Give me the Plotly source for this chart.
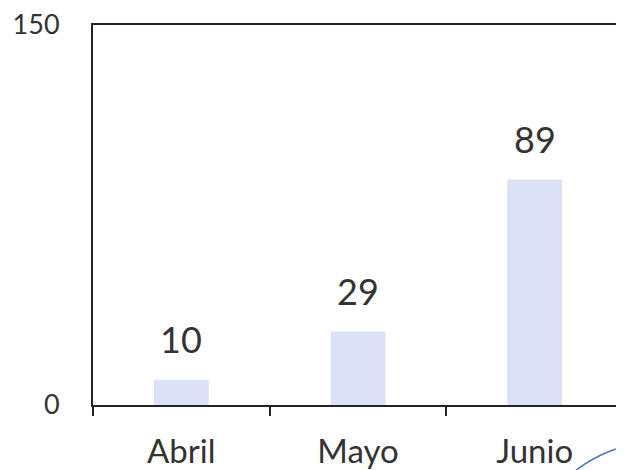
import plotly.graph_objects as go

categories = ["Abril", "Mayo", "Junio"]
values = [10, 29, 89]
y_ticks = [0, 150]

bar_color = "#dde1f5"
text_color = "#333333"
font_family = "Lato, 'Open Sans', sans-serif"

fig = go.Figure()
fig.add_trace(go.Bar(
    x=categories, y=values,
    marker=dict(color=bar_color, line=dict(width=0)),
    width=0.31,
    hoverinfo="skip",
))

for c, v in zip(categories, values):
    fig.add_annotation(
        x=c, y=v, text=str(v), showarrow=False,
        yanchor="bottom", yshift=17,
        font=dict(size=36, color=text_color, family=font_family),
    )

# scanner stamp arc at bottom-right
fig.add_shape(
    type="circle", xref="paper", yref="paper",
    x0=0.8094, x1=1.330, y0=-0.824, y1=-0.097,
    line=dict(color="#4f72b8", width=1.5),
)

fig.update_layout(
    width=616, height=462,
    margin=dict(l=85, r=1, t=17, b=65, autoexpand=False),
    paper_bgcolor="white", plot_bgcolor="white",
    showlegend=False,
    font=dict(family=font_family, color=text_color),
    xaxis=dict(
        type="category", automargin=False,
        showgrid=False, zeroline=False,
        showline=True, linecolor="#222222", linewidth=2, mirror=True,
        ticks="outside", tickson="boundaries", ticklen=9, tickwidth=2, tickcolor="#222222",
        tickfont=dict(size=33, color=text_color, family=font_family),
        ticklabelstandoff=16, ticklabeloverflow="allow",
    ),
    yaxis=dict(
        range=[0, 150], tickvals=y_ticks, automargin=False,
        showgrid=False, zeroline=False,
        showline=True, linecolor="#222222", linewidth=2, mirror=True,
        ticks="",
        tickfont=dict(size=27, color=text_color, family=font_family),
        ticklabelstandoff=26, ticklabeloverflow="allow",
    ),
)

fig.write_html("out.html")
